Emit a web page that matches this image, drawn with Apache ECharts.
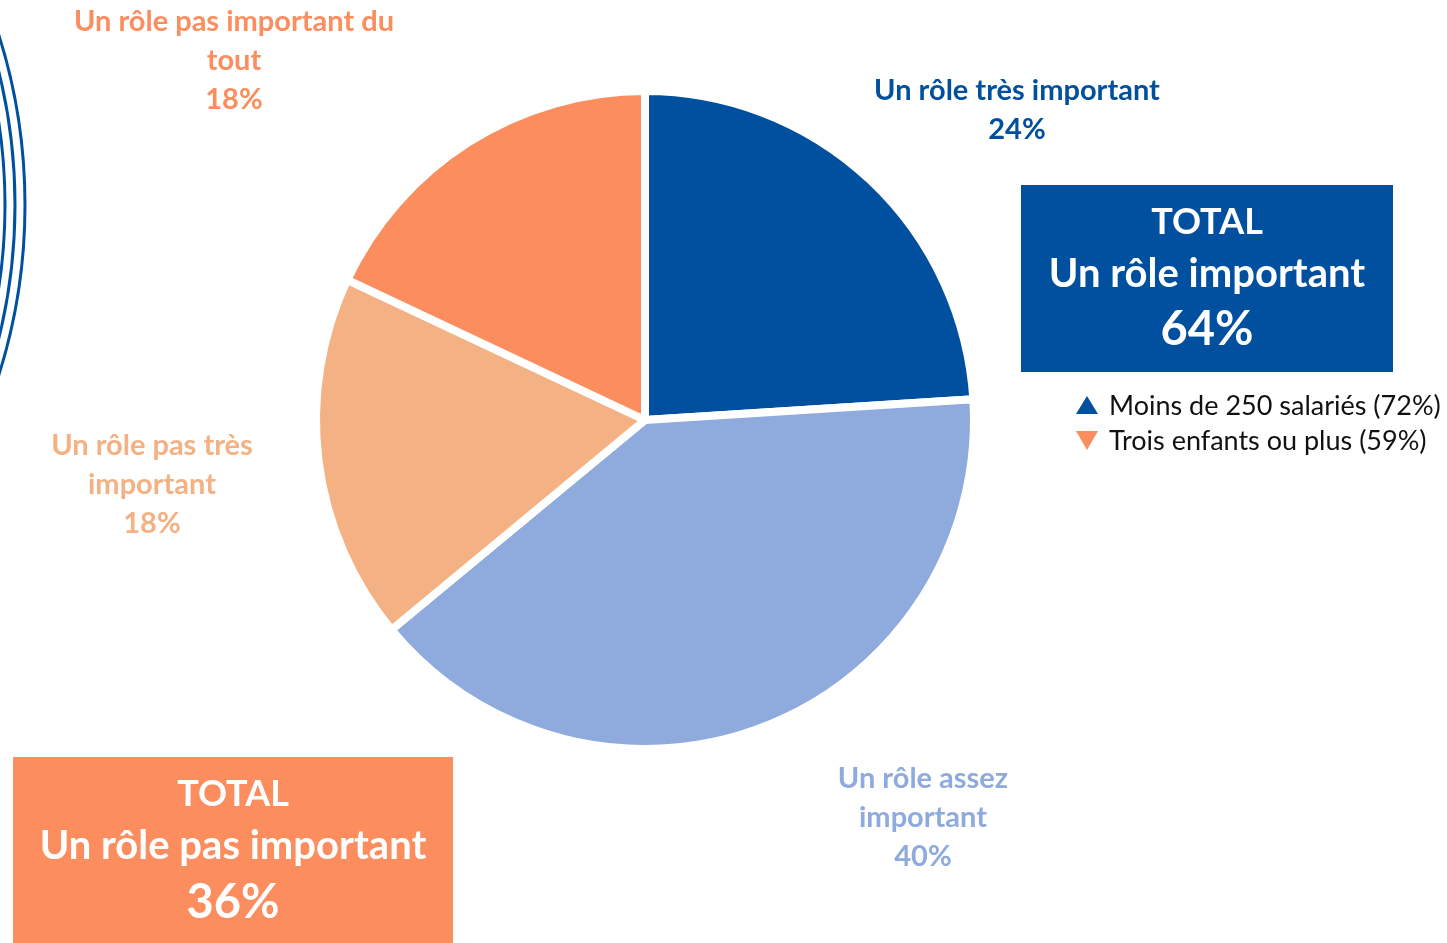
<!DOCTYPE html>
<html>
<head>
<meta charset="utf-8">
<script src="https://cdn.jsdelivr.net/npm/echarts@6/dist/echarts.min.js"></script>
<style>
html,body{margin:0;padding:0;background:#fff;}
#main{width:1447px;height:943px;}
</style>
</head>
<body>
<div id="main"></div>
<script>
const categories = ['Un rôle très important', 'Un rôle assez\nimportant', 'Un rôle pas très\nimportant', 'Un rôle pas important du\ntout'];
const values = [24, 40, 18, 18];
const colors = ['#00509F', '#8FAADC', '#F4B183', '#FC8D5E'];
const labelPos = [[1017, 90], [923, 778], [152, 445], [234, 21]];
const totalImportant = 64;
const totalNotImportant = 36;
const legendItems = ['Moins de 250 salariés (72%)', 'Trois enfants ou plus (59%)'];

const FONT = 'Lato, "Open Sans", sans-serif';
const chart = echarts.init(document.getElementById('main'));

const data = categories.map((c, i) => ({
  name: c, value: values[i],
  itemStyle: { color: colors[i] },
  label: { color: colors[i] }
}));

const option = {
  animation: false,
  series: [{
    type: 'pie',
    center: [645, 420],
    radius: 329,
    startAngle: 90,
    clockwise: true,
    itemStyle: { borderColor: '#fff', borderWidth: 8 },
    label: {
      show: true,
      position: 'outside',
      formatter: p => p.name + '\n' + p.value + '%',
      fontFamily: FONT,
      fontWeight: 'bold',
      fontSize: 29,
      lineHeight: 39,
      align: 'center'
    },
    labelLine: { show: false },
    labelLayout: function (params) {
      const pos = labelPos[params.dataIndex];
      return { x: pos[0], y: pos[1] - 19, align: 'center', verticalAlign: 'top' };
    },
    data: data
  }],
  graphic: [
    // decorative arcs
    { type: 'circle', shape: { cx: -540, cy: 205, r: 565 }, style: { fill: 'none', stroke: '#00509F', lineWidth: 3 } },
    { type: 'circle', shape: { cx: -540, cy: 205, r: 555 }, style: { fill: 'none', stroke: '#00509F', lineWidth: 3 } },
    { type: 'circle', shape: { cx: -540, cy: 205, r: 545 }, style: { fill: 'none', stroke: '#00509F', lineWidth: 3 } },
    // blue total box
    { type: 'rect', shape: { x: 1021, y: 185, width: 372, height: 187 }, style: { fill: '#00509F' } },
    { type: 'text', x: 1207, y: 222, style: { text: 'TOTAL', fill: '#fff', font: 'bold 36px ' + FONT, align: 'center', verticalAlign: 'middle' } },
    { type: 'text', x: 1207, y: 274, style: { text: 'Un rôle important', fill: '#fff', font: 'bold 40px ' + FONT, align: 'center', verticalAlign: 'middle' } },
    { type: 'text', x: 1207, y: 330, style: { text: totalImportant + '%', fill: '#fff', font: 'bold 47px ' + FONT, align: 'center', verticalAlign: 'middle' } },
    // orange total box
    { type: 'rect', shape: { x: 13, y: 757, width: 440, height: 190 }, style: { fill: '#FC8D5E' } },
    { type: 'text', x: 233, y: 794, style: { text: 'TOTAL', fill: '#fff', font: 'bold 36px ' + FONT, align: 'center', verticalAlign: 'middle' } },
    { type: 'text', x: 233, y: 846, style: { text: 'Un rôle pas important', fill: '#fff', font: 'bold 40px ' + FONT, align: 'center', verticalAlign: 'middle' } },
    { type: 'text', x: 233, y: 903, style: { text: totalNotImportant + '%', fill: '#fff', font: 'bold 47px ' + FONT, align: 'center', verticalAlign: 'middle' } },
    // legend
    { type: 'polygon', shape: { points: [[1087, 396], [1076, 414], [1098, 414]] }, style: { fill: '#00509F' } },
    { type: 'text', x: 1109, y: 406, style: { text: legendItems[0], fill: '#111', font: '27px ' + FONT, align: 'left', verticalAlign: 'middle' } },
    { type: 'polygon', shape: { points: [[1076, 431], [1098, 431], [1087, 450]] }, style: { fill: '#FC8D5E' } },
    { type: 'text', x: 1109, y: 441, style: { text: legendItems[1], fill: '#111', font: '27px ' + FONT, align: 'left', verticalAlign: 'middle' } }
  ]
};
chart.setOption(option);
</script>
</body>
</html>
